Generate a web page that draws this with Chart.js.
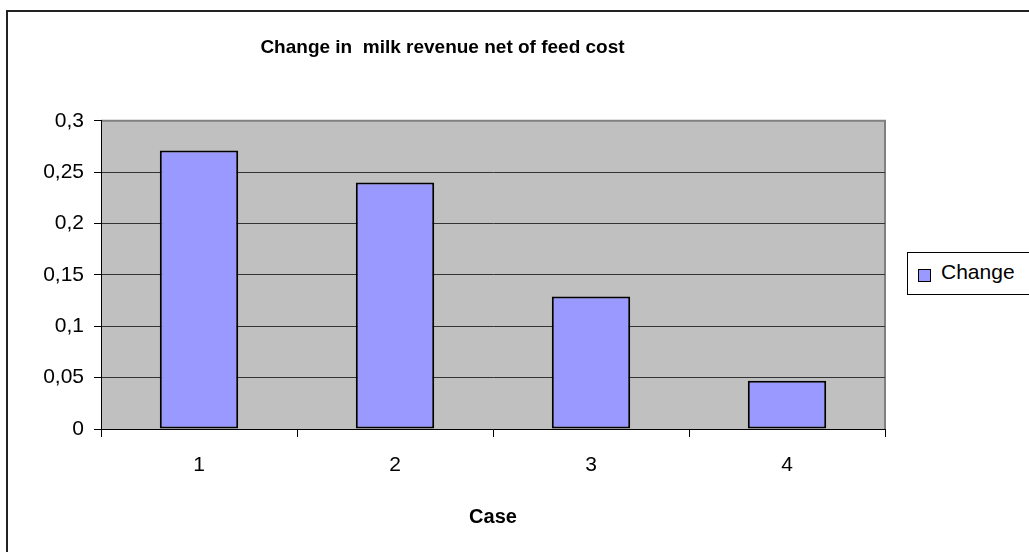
<!DOCTYPE html>
<html>
<head>
<meta charset="utf-8">
<script src="https://cdn.jsdelivr.net/npm/chart.js@4/dist/chart.umd.min.js"></script>
<style>
  body { margin: 0; background: #fff; font-family: Arial, "Liberation Sans", sans-serif; }
  #frame { position: absolute; left: 6px; top: 10px; width: 1100px; height: 600px;
           border-left: 2px solid #222; border-top: 2px solid #222; }
  #wrap { position: absolute; left: 0; top: 0; width: 906px; height: 552px; }
  #legend { position: absolute; left: 907px; top: 252px; width: 140px; height: 41px;
            border: 1px solid #000; background: #fff; }
  #legend .sw { position: absolute; left: 10px; top: 16px; width: 11px; height: 11px;
                border: 1px solid #000; }
  #legend .lbl { position: absolute; left: 33px; top: 7px; font-size: 21px; color: #000; }
</style>
</head>
<body>
<div id="frame"></div>
<div id="wrap"><canvas id="chart"></canvas></div>
<div id="legend"></div>
<script>
const categories = ['1', '2', '3', '4'];
const changeValues = [0.271, 0.240, 0.129, 0.047];
const seriesName = 'Change';
const yTicks = [0, 0.05, 0.1, 0.15, 0.2, 0.25, 0.3];

const fontFamily = 'Arial, "Liberation Sans", sans-serif';
Chart.defaults.color = '#000';
Chart.defaults.font.family = fontFamily;

// grey plot area with a darker frame on top/right
const plotBackground = {
    id: 'plotBackground',
    beforeDraw(chart) {
        const { ctx, chartArea: a } = chart;
        ctx.save();
        ctx.fillStyle = '#C0C0C0';
        ctx.fillRect(a.left, a.top, a.right - a.left, a.bottom - a.top);
        ctx.strokeStyle = '#808080';
        ctx.lineWidth = 2;
        ctx.beginPath();
        ctx.moveTo(a.left, a.top);
        ctx.lineTo(a.right, a.top);
        ctx.lineTo(a.right, a.bottom);
        ctx.stroke();
        ctx.restore();
    }
};

const chart = new Chart(document.getElementById('chart'), {
    type: 'bar',
    data: {
        labels: categories,
        datasets: [{
            label: seriesName,
            data: changeValues,
            backgroundColor: '#9999FF',
            borderColor: '#000',
            borderWidth: 2,
            borderSkipped: false,
            barPercentage: 0.4,
            categoryPercentage: 1
        }]
    },
    options: {
        responsive: true,
        maintainAspectRatio: false,
        animation: false,
        layout: { padding: { left: 0, right: 21, top: 0, bottom: 0 } },
        plugins: {
            legend: { display: false },
            tooltip: { enabled: false },
            title: {
                display: true,
                text: 'Change in  milk revenue net of feed cost',
                font: { size: 19, weight: 'bold' },
                padding: { top: 36, bottom: 62 }
            }
        },
        scales: {
            x: {
                grid: { drawOnChartArea: false, drawTicks: true, tickLength: 8, color: '#000' },
                border: { color: '#000', width: 1 },
                ticks: { font: { size: 21 }, padding: 16 },
                title: { display: true, text: 'Case', font: { size: 20, weight: 'bold' }, padding: { top: 0, bottom: 23 } },
                afterFit(scale) { scale.height = 123; }
            },
            y: {
                min: 0,
                max: 0.3,
                afterBuildTicks(scale) { scale.ticks = yTicks.map(v => ({ value: v })); },
                grid: {
                    color: ctx => (ctx.tick && ctx.tick.value === 0.3) ? '#808080' : '#333',
                    tickColor: '#000',
                    tickLength: 7
                },
                border: { color: '#000', width: 1 },
                ticks: {
                    font: { size: 21 },
                    padding: 10,
                    callback: v => Number(v.toFixed(2)).toString().replace('.', ',')
                },
                afterFit(scale) { scale.width = 101; }
            }
        }
    },
    plugins: [plotBackground]
});

// legend box built from the dataset
const legendEl = document.getElementById('legend');
chart.data.datasets.forEach(ds => {
    const sw = document.createElement('div');
    sw.className = 'sw';
    sw.style.background = ds.backgroundColor;
    const lbl = document.createElement('div');
    lbl.className = 'lbl';
    lbl.textContent = ds.label;
    legendEl.appendChild(sw);
    legendEl.appendChild(lbl);
});
</script>
</body>
</html>
